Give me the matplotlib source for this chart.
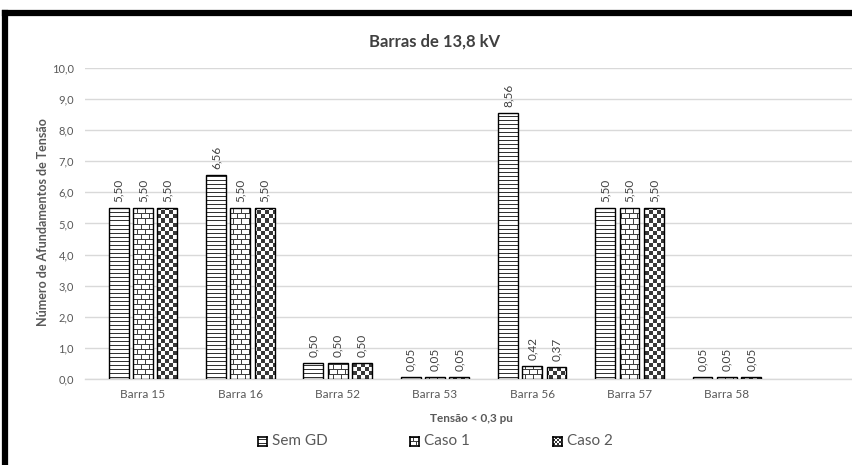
import numpy as np
import matplotlib
matplotlib.use("Agg")
import matplotlib.pyplot as plt
from matplotlib.path import Path
from matplotlib.lines import Line2D

plt.rcParams['font.family'] = ['Lato', 'DejaVu Sans']

categories = ["Barra 15", "Barra 16", "Barra 52", "Barra 53", "Barra 56", "Barra 57", "Barra 58"]
series_names = ["Sem GD", "Caso 1", "Caso 2"]
sem_gd = [5.50, 6.56, 0.50, 0.05, 8.56, 5.50, 0.05]
caso1 = [5.50, 5.50, 0.50, 0.05, 0.42, 5.50, 0.05]
caso2 = [5.50, 5.50, 0.50, 0.05, 0.37, 5.50, 0.05]
yticks = [0, 1, 2, 3, 4, 5, 6, 7, 8, 9, 10]

W, H, DPI = 853, 465, 100
fig = plt.figure(figsize=(W / DPI, H / DPI), dpi=DPI)

ax_left, ax_right, ax_bottom, ax_top = 85, 853, 379, 68
ax_w, ax_h = ax_right - ax_left, ax_bottom - ax_top
ax = fig.add_axes([ax_left / W, 1 - ax_bottom / H, ax_w / W, ax_h / H])

# category spacing and first category centre, in pixels
cat_px, first_px = 97.3, 143.0
xlim = ((ax_left - first_px) / cat_px, (ax_right - first_px) / cat_px)
ylim = (0, 10)

grey_txt = "#595959"
dark = "#404040"


def texture(kind, h, w, line=4, brick_h=5, brick_w=8, cell=4):
    """Fill pattern in screen pixels (row 0 = bottom)."""
    r = np.arange(h)[:, None]
    c = np.arange(w)[None, :]
    img = np.ones((h, w))
    if kind == 0:
        img[np.broadcast_to((r % line == 1), (h, w))] = 0.2
    elif kind == 1:
        row = r % brick_h
        brick = r // brick_h
        hline = np.broadcast_to(row == brick_h - 1, (h, w))
        off = np.where(brick % 2 == 0, 0, brick_w // 2)
        vline = ((c + off) % brick_w == 0) & (row != brick_h - 1)
        img[hline | vline] = 0.25
    else:
        mask = ((r // cell) + (c // cell)) % 2 == 0
        img[mask] = 0.22
    return img


offsets = [-0.25, 0.0, 0.25]
bw = 0.205
all_series = [sem_gd, caso1, caso2]
x = np.arange(len(categories))

for k, (vals, off) in enumerate(zip(all_series, offsets)):
    ax.bar(x + off, vals, width=bw, facecolor="none", edgecolor="black",
           linewidth=1.0, zorder=4)
    # patterned fill, clipped to this series' bars
    rects = [Path([(xi + off - bw / 2, 0), (xi + off + bw / 2, 0),
                   (xi + off + bw / 2, v), (xi + off - bw / 2, v), (xi + off - bw / 2, 0)],
                  [Path.MOVETO, Path.LINETO, Path.LINETO, Path.LINETO, Path.CLOSEPOLY])
             for xi, v in zip(x, vals)]
    clip = Path.make_compound_path(*rects)
    im = ax.imshow(texture(k, ax_h, ax_w), cmap="gray", vmin=0, vmax=1, origin="lower",
                   extent=(xlim[0], xlim[1], ylim[0], ylim[1]),
                   interpolation="nearest", aspect="auto", zorder=3)
    im.set_clip_path(clip, transform=ax.transData)
    for xi, v in zip(x, vals):
        ax.annotate(f"{v:.2f}".replace(".", ","), (xi + off, v),
                    xytext=(0, 4.5), textcoords="offset points", rotation=90,
                    ha="center", va="bottom", fontsize=8.5, color=dark)

ax.set_xlim(*xlim)
ax.set_ylim(*ylim)

ax.set_yticks(yticks)
ax.set_yticklabels([f"{t:.1f}".replace(".", ",") for t in yticks], fontsize=8, color=grey_txt)
ax.set_xticks(x)
ax.set_xticklabels(categories, fontsize=8.5, color=grey_txt)
ax.tick_params(axis="y", length=0, pad=8)
ax.tick_params(axis="x", length=0, pad=7)
ax.grid(axis="y", color="#d9d9d9", linewidth=1.0, zorder=0)
ax.set_axisbelow(True)
for s in ["top", "right", "left"]:
    ax.spines[s].set_visible(False)
ax.spines["bottom"].set_color("#d9d9d9")
ax.spines["bottom"].set_linewidth(1.0)

fig.text(435 / W, 1 - 42 / H, "Barras de 13,8 kV", ha="center", va="center",
         fontsize=12, fontweight="bold", color=dark)
fig.text(43 / W, 1 - 222 / H, "Número de Afundamentos de Tensão", rotation=90,
         ha="center", va="center", fontsize=9, fontweight="bold", color=grey_txt)
fig.text(471 / W, 1 - 418 / H, "Tensão < 0,3 pu", ha="center", va="center",
         fontsize=8.5, fontweight="bold", color=grey_txt)

# legend: small patterned squares followed by the series names
marker_left = [258, 410, 553]
msize = 9
for k, (name, mx) in enumerate(zip(series_names, marker_left)):
    max_ = fig.add_axes([mx / W, (H - 441 - msize / 2) / H, msize / W, msize / H])
    tex = texture(k, msize, msize, line=4, brick_h=4, brick_w=6, cell=2)
    max_.imshow(tex, cmap="gray", vmin=0, vmax=1, origin="lower",
                interpolation="nearest", aspect="auto")
    max_.set_xticks([])
    max_.set_yticks([])
    for s in max_.spines.values():
        s.set_color("black")
        s.set_linewidth(1.2)
    fig.text((mx + 14) / W, 1 - 441 / H, name, ha="left", va="center",
             fontsize=11, color=grey_txt)

# thick frame on the top and left edges
fig.add_artist(Line2D([5 / W, 5 / W], [0, 1 - 13 / H], color="black", linewidth=4.5,
                      transform=fig.transFigure, solid_capstyle="projecting"))
fig.add_artist(Line2D([5 / W, 1], [1 - 13 / H, 1 - 13 / H], color="black", linewidth=4.5,
                      transform=fig.transFigure, solid_capstyle="projecting"))

fig.savefig("out.png", dpi=DPI)
